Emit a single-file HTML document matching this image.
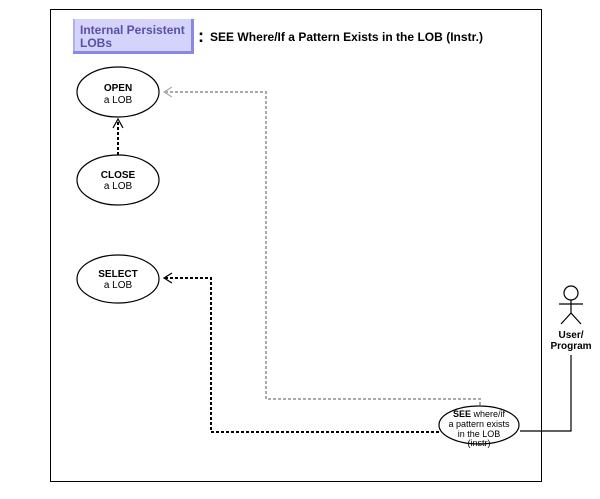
<!DOCTYPE html>
<html><head><meta charset="utf-8"><style>
body{margin:0;background:#fff;}
svg text{font-family:"Liberation Sans",sans-serif;}
</style></head><body>
<svg width="600" height="494" viewBox="0 0 600 494" xmlns="http://www.w3.org/2000/svg">
<rect x="50.5" y="9.5" width="491" height="472" fill="none" stroke="#000" stroke-width="1"/>
<!-- title box -->
<rect x="73" y="19" width="121" height="35" fill="#8888e8"/>
<rect x="73" y="19" width="118" height="32" fill="#d4d4fa"/>
<rect x="73" y="19" width="2" height="32" fill="#b0b0f0"/>
<text x="80" y="34" font-size="12" font-weight="bold" fill="#5a4fa8">Internal Persistent</text>
<text x="80" y="47" font-size="12" font-weight="bold" fill="#5a4fa8">LOBs</text>
<text x="198" y="42" font-size="18" font-weight="bold" fill="#000">:</text>
<text x="210" y="41" font-size="12" font-weight="bold" fill="#000" textLength="273">SEE Where/If a Pattern Exists in the LOB (Instr.)</text>
<!-- ellipses -->
<g fill="#fff" stroke="#000" stroke-width="1.2">
<ellipse cx="118" cy="92" rx="41" ry="25"/>
<ellipse cx="118" cy="180" rx="41" ry="25"/>
<ellipse cx="118" cy="279" rx="41" ry="24"/>
</g>
<g font-size="10" text-anchor="middle">
<text x="118" y="91" font-weight="bold">OPEN</text><text x="118" y="103">a LOB</text>
<text x="118" y="178" font-weight="bold">CLOSE</text><text x="118" y="189">a LOB</text>
<text x="118" y="277" font-weight="bold">SELECT</text><text x="118" y="288">a LOB</text>
</g>
<!-- connectors -->
<polyline points="480,405 480,399 266,399 266,92 164,92" fill="none" stroke="#aaa" stroke-width="2" stroke-dasharray="3,2"/>
<polyline points="172,87 164,92 172,97" fill="none" stroke="#aaa" stroke-width="1.2"/>
<polyline points="439,432 211,432 211,278 164,278" fill="none" stroke="#000" stroke-width="2" stroke-dasharray="3,2"/>
<polyline points="172,273 164,278 172,283" fill="none" stroke="#000" stroke-width="1.2"/>
<line x1="118" y1="155" x2="118" y2="120" stroke="#000" stroke-width="2" stroke-dasharray="3,2"/>
<polyline points="113,128 118,119 123,128" fill="none" stroke="#000" stroke-width="1.2"/>
<!-- SEE ellipse -->
<ellipse cx="479" cy="425" rx="40" ry="19" fill="#fff" stroke="#000" stroke-width="1.2"/>
<g font-size="9" text-anchor="middle">
<text x="479" y="417"><tspan font-weight="bold">SEE</tspan> where/if</text>
<text x="479" y="427">a pattern exists</text>
<text x="479" y="437">in the LOB</text>
<text x="479" y="446">(instr)</text>
</g>
<!-- actor -->
<circle cx="571" cy="293" r="7" fill="#fff" stroke="#000" stroke-width="1.2"/>
<g stroke="#000" stroke-width="1.2" fill="none">
<line x1="571" y1="300" x2="571" y2="314"/>
<line x1="559" y1="304" x2="583" y2="304"/>
<polyline points="561,324 571,313 581,324"/>
<polyline points="571,355 571,431 520,431"/>
</g>
<text x="571" y="338" font-size="10" font-weight="bold" text-anchor="middle">User/</text>
<text x="571" y="349" font-size="10" font-weight="bold" text-anchor="middle">Program</text>
</svg>
</body></html>
